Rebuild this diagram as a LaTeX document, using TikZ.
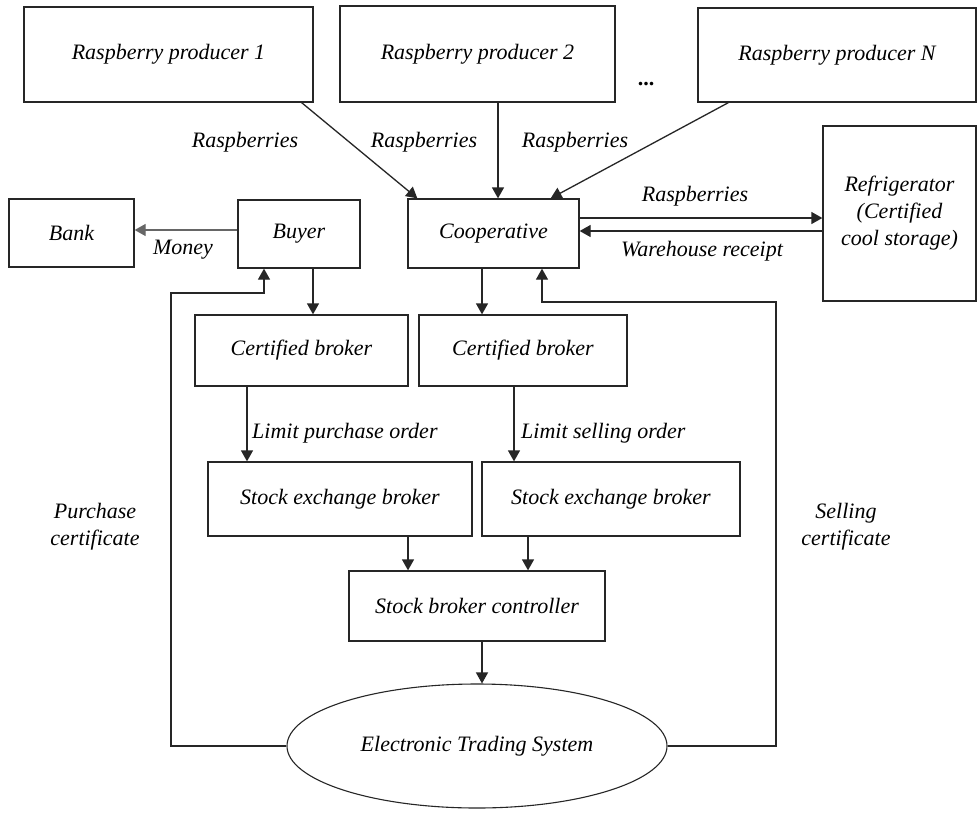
\documentclass[tikz,border=0pt]{standalone}
\usepackage{fontspec}
\setmainfont{Liberation Serif}
\usetikzlibrary{shapes.geometric,arrows.meta,calc}
\begin{document}
\begin{tikzpicture}[x=1pt,y=-1pt,
  every node/.style={font=\fontsize{22}{27}\selectfont\itshape},
  box/.style={draw=black!85,line width=1.3pt,rectangle,inner sep=0pt},
  oval/.style={draw=black!85,line width=1.1pt,ellipse,inner sep=0pt},
  lbl/.style={inner sep=0pt},
  arr/.style={draw=black!85,line width=1.3pt,-{Triangle[length=11pt,width=12pt]}},
  ln/.style={draw=black!85,line width=1.3pt}
]
\useasboundingbox (0,0) rectangle (977,817);
\fill[white] (0,0) rectangle (977,817);

% boxes
\node[box,minimum width=289pt,minimum height=95pt] (p1) at (168.5,54.5) {Raspberry producer 1};
\node[box,minimum width=275pt,minimum height=96pt] (p2) at (477.5,54) {Raspberry producer 2};
\node[box,minimum width=278pt,minimum height=94pt] (pn) at (837,55) {Raspberry producer N};
\node[lbl,font=\fontsize{22}{27}\selectfont\bfseries] (dots) at (646,84) {...};

\node[box,minimum width=125pt,minimum height=68pt] (bank) at (71.5,233) {Bank};
\node[box,minimum width=122pt,minimum height=68pt] (buyer) at (299,234) {Buyer};
\node[box,minimum width=171pt,minimum height=69pt] (coop) at (493.5,233.5) {Cooperative};
\node[box,minimum width=153pt,minimum height=175pt,align=center] (fridge) at (899.5,213.5) {Refrigerator\\(Certified\\cool storage)};

\node[box,minimum width=213pt,minimum height=71pt] (cbL) at (301.5,350.5) {Certified broker};
\node[box,minimum width=208pt,minimum height=71pt] (cbR) at (523,350.5) {Certified broker};
\node[box,minimum width=264pt,minimum height=74pt] (sebL) at (340,499) {Stock exchange broker};
\node[box,minimum width=258pt,minimum height=74pt] (sebR) at (611,499) {Stock exchange broker};
\node[box,minimum width=256pt,minimum height=70pt] (ctrl) at (477,606) {Stock broker controller};
\node[oval,minimum width=380pt,minimum height=124pt] (ets) at (477,746) {Electronic Trading System};

% producers -> cooperative
\draw[arr] ([xshift=-12pt]p1.south east) -- ([xshift=10pt]coop.north west);
\draw[arr] ([xshift=20.5pt]p2.south) -- ([xshift=20.5pt]p2.south |- coop.north);
\draw[arr] ([xshift=31pt]pn.south west) -- ([xshift=-29pt]coop.north east);
\node[lbl] (r1) at (245,142) {Raspberries};
\node[lbl] (r2) at (424,142) {Raspberries};
\node[lbl] (r3) at (575,142) {Raspberries};

% cooperative <-> refrigerator
\draw[arr] ([yshift=15.5pt]coop.east) -- ([yshift=15.5pt]coop.east -| fridge.west);
\draw[arr] ([yshift=2.5pt]coop.east -| fridge.west) -- ([yshift=2.5pt]coop.east);
\node[lbl] (r4) at (695,196) {Raspberries};
\node[lbl] (wr) at (702,251) {Warehouse receipt};

% buyer -> bank
\draw[arr,draw=black!60] ([yshift=4pt]buyer.west) -- ([yshift=4pt]buyer.west -| bank.east);
\node[lbl] (money) at (183,250) {Money};

% downward flow
\draw[arr] ([xshift=14pt]buyer.south) -- ([xshift=14pt]buyer.south |- cbL.north);
\draw[arr] ([xshift=-11.5pt]coop.south) -- ([xshift=-11.5pt]coop.south |- cbR.north);
\draw[arr] ([xshift=-54.5pt]cbL.south) -- ([xshift=-54.5pt]cbL.south |- sebL.north);
\draw[arr] ([xshift=-9pt]cbR.south) -- ([xshift=-9pt]cbR.south |- sebR.north);
\node[lbl,anchor=west] (lpo) at (252,433) {Limit purchase order};
\node[lbl,anchor=west] (lso) at (521,433) {Limit selling order};
\draw[arr] ([xshift=68pt]sebL.south) -- ([xshift=68pt]sebL.south |- ctrl.north);
\draw[arr] ([xshift=-83pt]sebR.south) -- ([xshift=-83pt]sebR.south |- ctrl.north);
\draw[arr] ([xshift=5pt]ctrl.south) -- ([xshift=5pt]ctrl.south |- ets.north);

% feedback loops
\coordinate (lc) at (171,293);
\coordinate (rc) at (776,302);
\draw[arr] (ets.west) -| (lc) -| ([xshift=-35pt]buyer.south);
\draw[arr] (ets.east) -| (rc) -| ([xshift=48.5pt]coop.south);
\node[lbl,align=center] (pc) at (95,527) {Purchase\\certificate};
\node[lbl,align=center] (sc) at (846,527) {Selling\\certificate};
\end{tikzpicture}
\end{document}
